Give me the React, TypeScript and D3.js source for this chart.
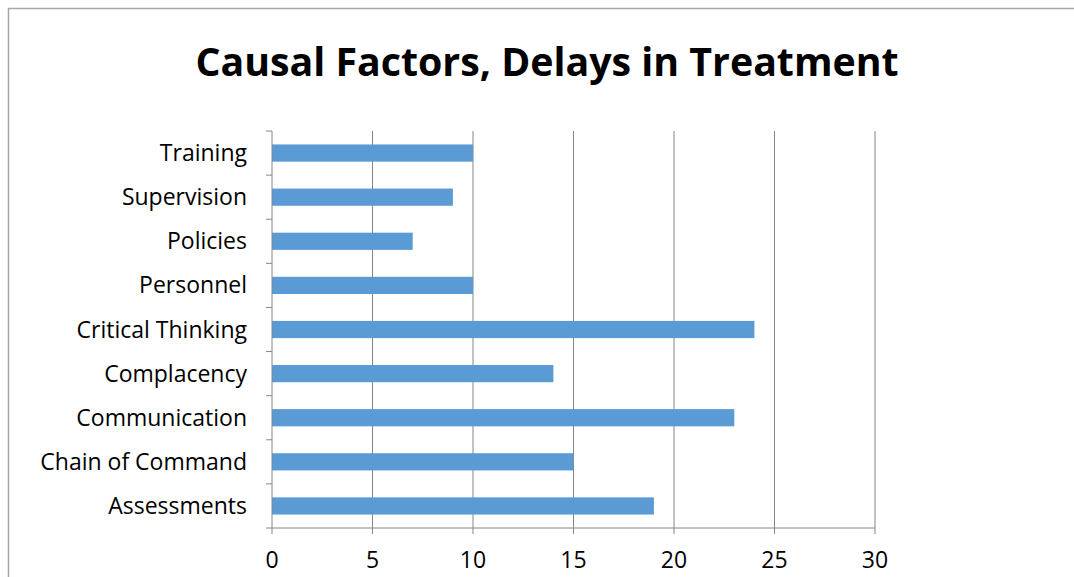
import React from "react";
import * as d3 from "d3";

const categories = [
  "Training",
  "Supervision",
  "Policies",
  "Personnel",
  "Critical Thinking",
  "Complacency",
  "Communication",
  "Chain of Command",
  "Assessments",
];
const values = [10, 9, 7, 10, 24, 14, 23, 15, 19];
const xTicks = [0, 5, 10, 15, 20, 25, 30];
const title = "Causal Factors, Delays in Treatment";

const W = 1074;
const H = 577;
const FONT = "'Open Sans', sans-serif";

export default function App() {
  const x = d3.scaleLinear().domain([0, 30]).range([272, 875]);
  const y = d3
    .scaleBand<string>()
    .domain(categories)
    .range([131, 528])
    .paddingInner(0.61)
    .paddingOuter(0.305);
  const top = 131;
  const bottom = 528;
  const boundaries = d3.range(categories.length + 1).map((i) => top + i * (bottom - top) / categories.length);
  const axisColor = "#868686";

  return (
    <svg
      width={W}
      height={H}
      style={{ position: "absolute", left: 0, top: 0, background: "#fff" }}
    >
      <rect x={0} y={0} width={W} height={H} fill="#fff" />
      <path d={`M8.5,${H + 5} V8.5 H${W + 5}`} fill="none" stroke="#a6a6a6" strokeWidth={1.5} />
      <text
        x={547}
        y={76}
        textAnchor="middle"
        fontFamily={FONT}
        fontWeight="bold"
        fontSize={39.3}
        fill="#000"
      >
        {title}
      </text>
      {xTicks.slice(1).map((t) => (
        <line key={"g" + t} x1={x(t)} x2={x(t)} y1={top} y2={bottom} stroke={axisColor} strokeWidth={1} />
      ))}
      {categories.map((c, i) => (
        <rect
          key={c}
          x={x(0)}
          y={y(c)}
          width={x(values[i]) - x(0)}
          height={y.bandwidth()}
          fill="#5b9bd5"
        />
      ))}
      <line x1={x(0)} x2={x(0)} y1={top} y2={bottom} stroke={axisColor} strokeWidth={1} />
      {boundaries.map((b, i) => (
        <line key={"yt" + i} x1={x(0) - 6} x2={x(0)} y1={b} y2={b} stroke={axisColor} strokeWidth={1} />
      ))}
      <line x1={x(0)} x2={x(30)} y1={bottom} y2={bottom} stroke={axisColor} strokeWidth={1} />
      {xTicks.map((t) => (
        <line key={"xt" + t} x1={x(t)} x2={x(t)} y1={bottom} y2={bottom + 6} stroke={axisColor} strokeWidth={1} />
      ))}
      {xTicks.map((t) => (
        <text
          key={"xl" + t}
          x={x(t)}
          y={560}
          dy="0.35em"
          textAnchor="middle"
          fontFamily={FONT}
          fontSize={23}
          fill="#000"
        >
          {t}
        </text>
      ))}
      {categories.map((c) => (
        <text
          key={"yl" + c}
          x={247}
          y={(y(c) as number) + y.bandwidth() / 2}
          dy="0.35em"
          textAnchor="end"
          fontFamily={FONT}
          fontSize={23}
          fill="#000"
        >
          {c}
        </text>
      ))}
    </svg>
  );
}
